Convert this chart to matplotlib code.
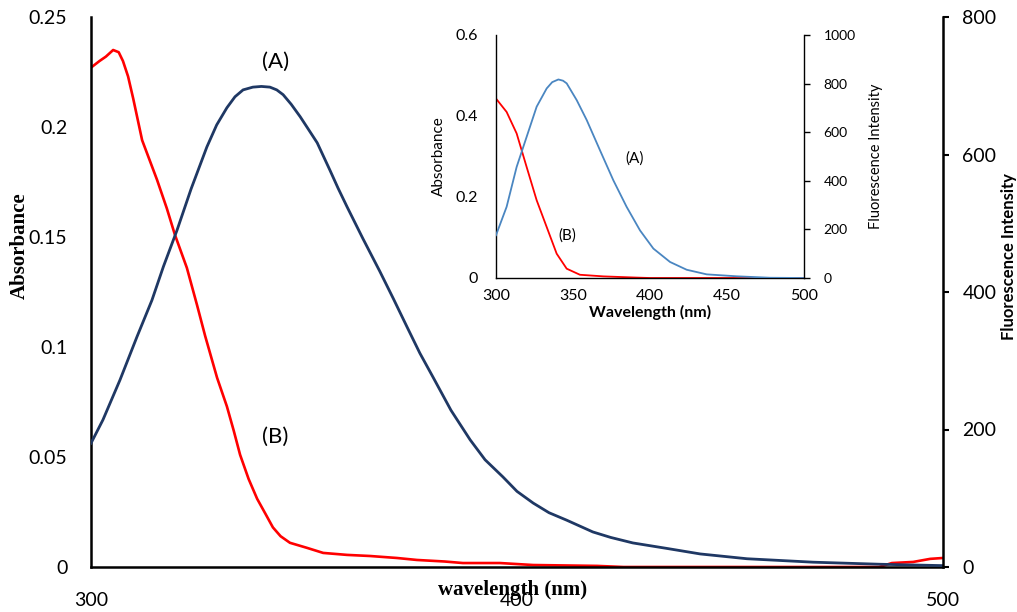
import matplotlib
matplotlib.use('Agg')
import matplotlib.pyplot as plt

# ── Main panel data ─────────────────────────────────────────────────────────
# (B) absorbance, left axis
wl_abs = [300.0, 302.0, 303.5, 305.2, 306.5, 307.5, 308.7, 309.9, 312.0, 315.5, 317.8,
          319.7, 322.5, 324.9, 326.8, 329.6, 331.9, 333.5, 335.0, 337.0, 339.0, 341.0,
          342.7, 344.5, 346.7, 350.7, 354.5, 360.1, 365.5, 371.8, 376.5, 383.0, 387.3,
          396.0, 403.8, 418.8, 425.0, 485.0, 488.0, 493.0, 497.0, 500.0]
absorb = [0.227, 0.230, 0.232, 0.235, 0.234, 0.230, 0.223, 0.213, 0.194, 0.176, 0.163,
          0.151, 0.136, 0.119, 0.105, 0.086, 0.073, 0.062, 0.051, 0.040, 0.031, 0.024,
          0.018, 0.014, 0.011, 0.0087, 0.0064, 0.0055, 0.0050, 0.0041, 0.0032, 0.0025, 0.0018,
          0.0018, 0.0009, 0.0005, 0.0, 0.0, 0.0018, 0.0023, 0.0037, 0.0041]

# (A) fluorescence, right axis
wl_fl = [300.0, 302.8, 306.8, 310.8, 314.3, 317.0, 320.2, 323.5, 327.2, 329.5, 331.9,
         333.8, 335.7, 338.0, 340.0, 342.0, 343.6, 345.1, 347.0, 349.1, 351.0, 353.1,
         356.1, 358.0, 360.1, 363.8, 367.8, 371.0, 374.2, 377.2, 380.3, 384.5, 389.0,
         392.5, 396.7, 400.0, 403.8, 407.5, 411.7, 417.8, 422.0, 427.2, 435.2, 443.0,
         454.0, 469.5, 485.2, 500.0]
fluor = [180, 214, 272, 335, 388, 437, 490, 550, 611, 643, 668,
         684, 694, 698, 699, 698, 694, 687, 673, 655, 637, 617,
         577, 551, 524, 478, 430, 390, 349, 311, 276, 228, 185,
         156, 131, 110, 93, 79, 68, 51, 43, 35, 27, 19,
         12, 7, 4, 2]

# ── Inset data ──────────────────────────────────────────────────────────────
in_wl_abs = [300.0, 306.9, 313.4, 319.9, 326.4, 332.9, 339.4, 345.9, 354.5, 369.7,
             391.3, 400.0, 500.0]
in_abs = [0.443, 0.41, 0.357, 0.274, 0.192, 0.126, 0.060, 0.023, 0.008, 0.004,
          0.001, 0.0, 0.0]

in_wl_fl = [300.0, 306.9, 313.4, 319.9, 326.4, 332.9, 336.5, 340.5, 343.5, 345.9, 352.4,
            358.9, 367.5, 376.2, 384.8, 393.5, 402.2, 413.0, 423.8, 436.8, 456.3, 478.0,
            499.6]
in_fl = [176, 293, 457, 581, 705, 780, 806, 817, 812, 801, 732,
         650, 526, 402, 293, 196, 121, 66, 34, 15, 7, 1,
         0]

main_xticks = [300, 400, 500]
main_yticks = [0, 0.05, 0.1, 0.15, 0.2, 0.25]
main_y2ticks = [0, 200, 400, 600, 800]
in_xticks = [300, 350, 400, 450, 500]
in_yticks = [0, 0.2, 0.4, 0.6]
in_y2ticks = [0, 200, 400, 600, 800, 1000]

RED = '#FF0000'
NAVY = '#1F3864'
BLUE = '#4A86C1'
SANS = 'Lato'
SERIF = 'Liberation Serif'

plt.rcParams['font.family'] = SANS

fig = plt.figure(figsize=(10.17, 6.12), dpi=100)
fig.patch.set_facecolor('white')

# ── Main axes ───────────────────────────────────────────────────────────────
ax = fig.add_axes([91 / 1017, 1 - 567 / 612, 852 / 1017, 550 / 612])
ax2 = ax.twinx()

ax.plot(wl_abs, absorb, color=RED, lw=1.9)
ax2.plot(wl_fl, fluor, color=NAVY, lw=2.0)

ax.set_xlim(300, 500)
ax.set_ylim(0, 0.25)
ax2.set_ylim(0, 800)

ax.set_xticks(main_xticks)
ax.set_xticklabels([str(t) for t in main_xticks])
ax.set_yticks(main_yticks)
ax.set_yticklabels(['0', '0.05', '0.1', '0.15', '0.2', '0.25'])
ax2.set_yticks(main_y2ticks)

ax.tick_params(axis='x', length=0, pad=18, labelsize=14)
ax.tick_params(axis='y', length=0, pad=17, labelsize=14)
ax2.tick_params(axis='y', length=4, width=1.5, direction='out', pad=10, labelsize=14)

for a in (ax, ax2):
    a.spines['top'].set_visible(False)
    for s in ('left', 'right', 'bottom'):
        a.spines[s].set_linewidth(1.8)
ax.spines['right'].set_visible(False)
ax2.spines['left'].set_visible(False)
ax2.spines['bottom'].set_visible(False)

ax.text(-0.083, 0.585, 'Absorbance', transform=ax.transAxes, rotation=90,
        ha='center', va='center', fontsize=15, fontweight='bold', family=SERIF)
ax.text(0.495, -0.042, 'wavelength (nm)', transform=ax.transAxes,
        ha='center', va='center', fontsize=15, fontweight='bold', family=SERIF)
ax2.text(1.0775, 0.565, 'Fluorescence Intensity', transform=ax.transAxes, rotation=90,
         ha='center', va='center', fontsize=12, fontweight='bold')

ax2.text(343.4, 735, '(A)', ha='center', va='center', fontsize=16)
ax2.text(343.2, 190, '(B)', ha='center', va='center', fontsize=16)

# ── Inset ───────────────────────────────────────────────────────────────────
ins = fig.add_axes([496 / 1017, 1 - 278 / 612, 308 / 1017, 243 / 612])
ins.patch.set_alpha(0)
ins2 = ins.twinx()

ins.plot(in_wl_abs, in_abs, color=RED, lw=1.3)
ins2.plot(in_wl_fl, in_fl, color=BLUE, lw=1.3)

ins.set_xlim(300, 500)
ins.set_ylim(0, 0.6)
ins2.set_ylim(0, 1000)
ins.set_xticks(in_xticks)
ins.set_yticks(in_yticks)
ins.set_yticklabels(['0', '0.2', '0.4', '0.6'])
ins2.set_yticks(in_y2ticks)

ins.tick_params(axis='x', length=0, pad=8, labelsize=11.5)
ins.tick_params(axis='y', length=0, pad=13, labelsize=11.5)
ins2.tick_params(axis='y', length=4, width=1, direction='out', pad=10, labelsize=10)

for a in (ins, ins2):
    a.spines['top'].set_visible(False)
    for s in ('left', 'right', 'bottom'):
        a.spines[s].set_linewidth(1.0)
ins.spines['right'].set_visible(False)
ins2.spines['left'].set_visible(False)
ins2.spines['bottom'].set_visible(False)

ins.set_xlabel('Wavelength (nm)', fontsize=11.5, fontweight='bold', labelpad=1)
ins.set_ylabel('Absorbance', fontsize=11, labelpad=7)
ins2.set_ylabel('Fluorescence Intensity', fontsize=10.5, labelpad=10)

ins2.text(390, 490, '(A)', ha='center', va='center', fontsize=11)
ins2.text(346, 176, '(B)', ha='center', va='center', fontsize=11)

fig.savefig('out.png', dpi=100, facecolor='white')
